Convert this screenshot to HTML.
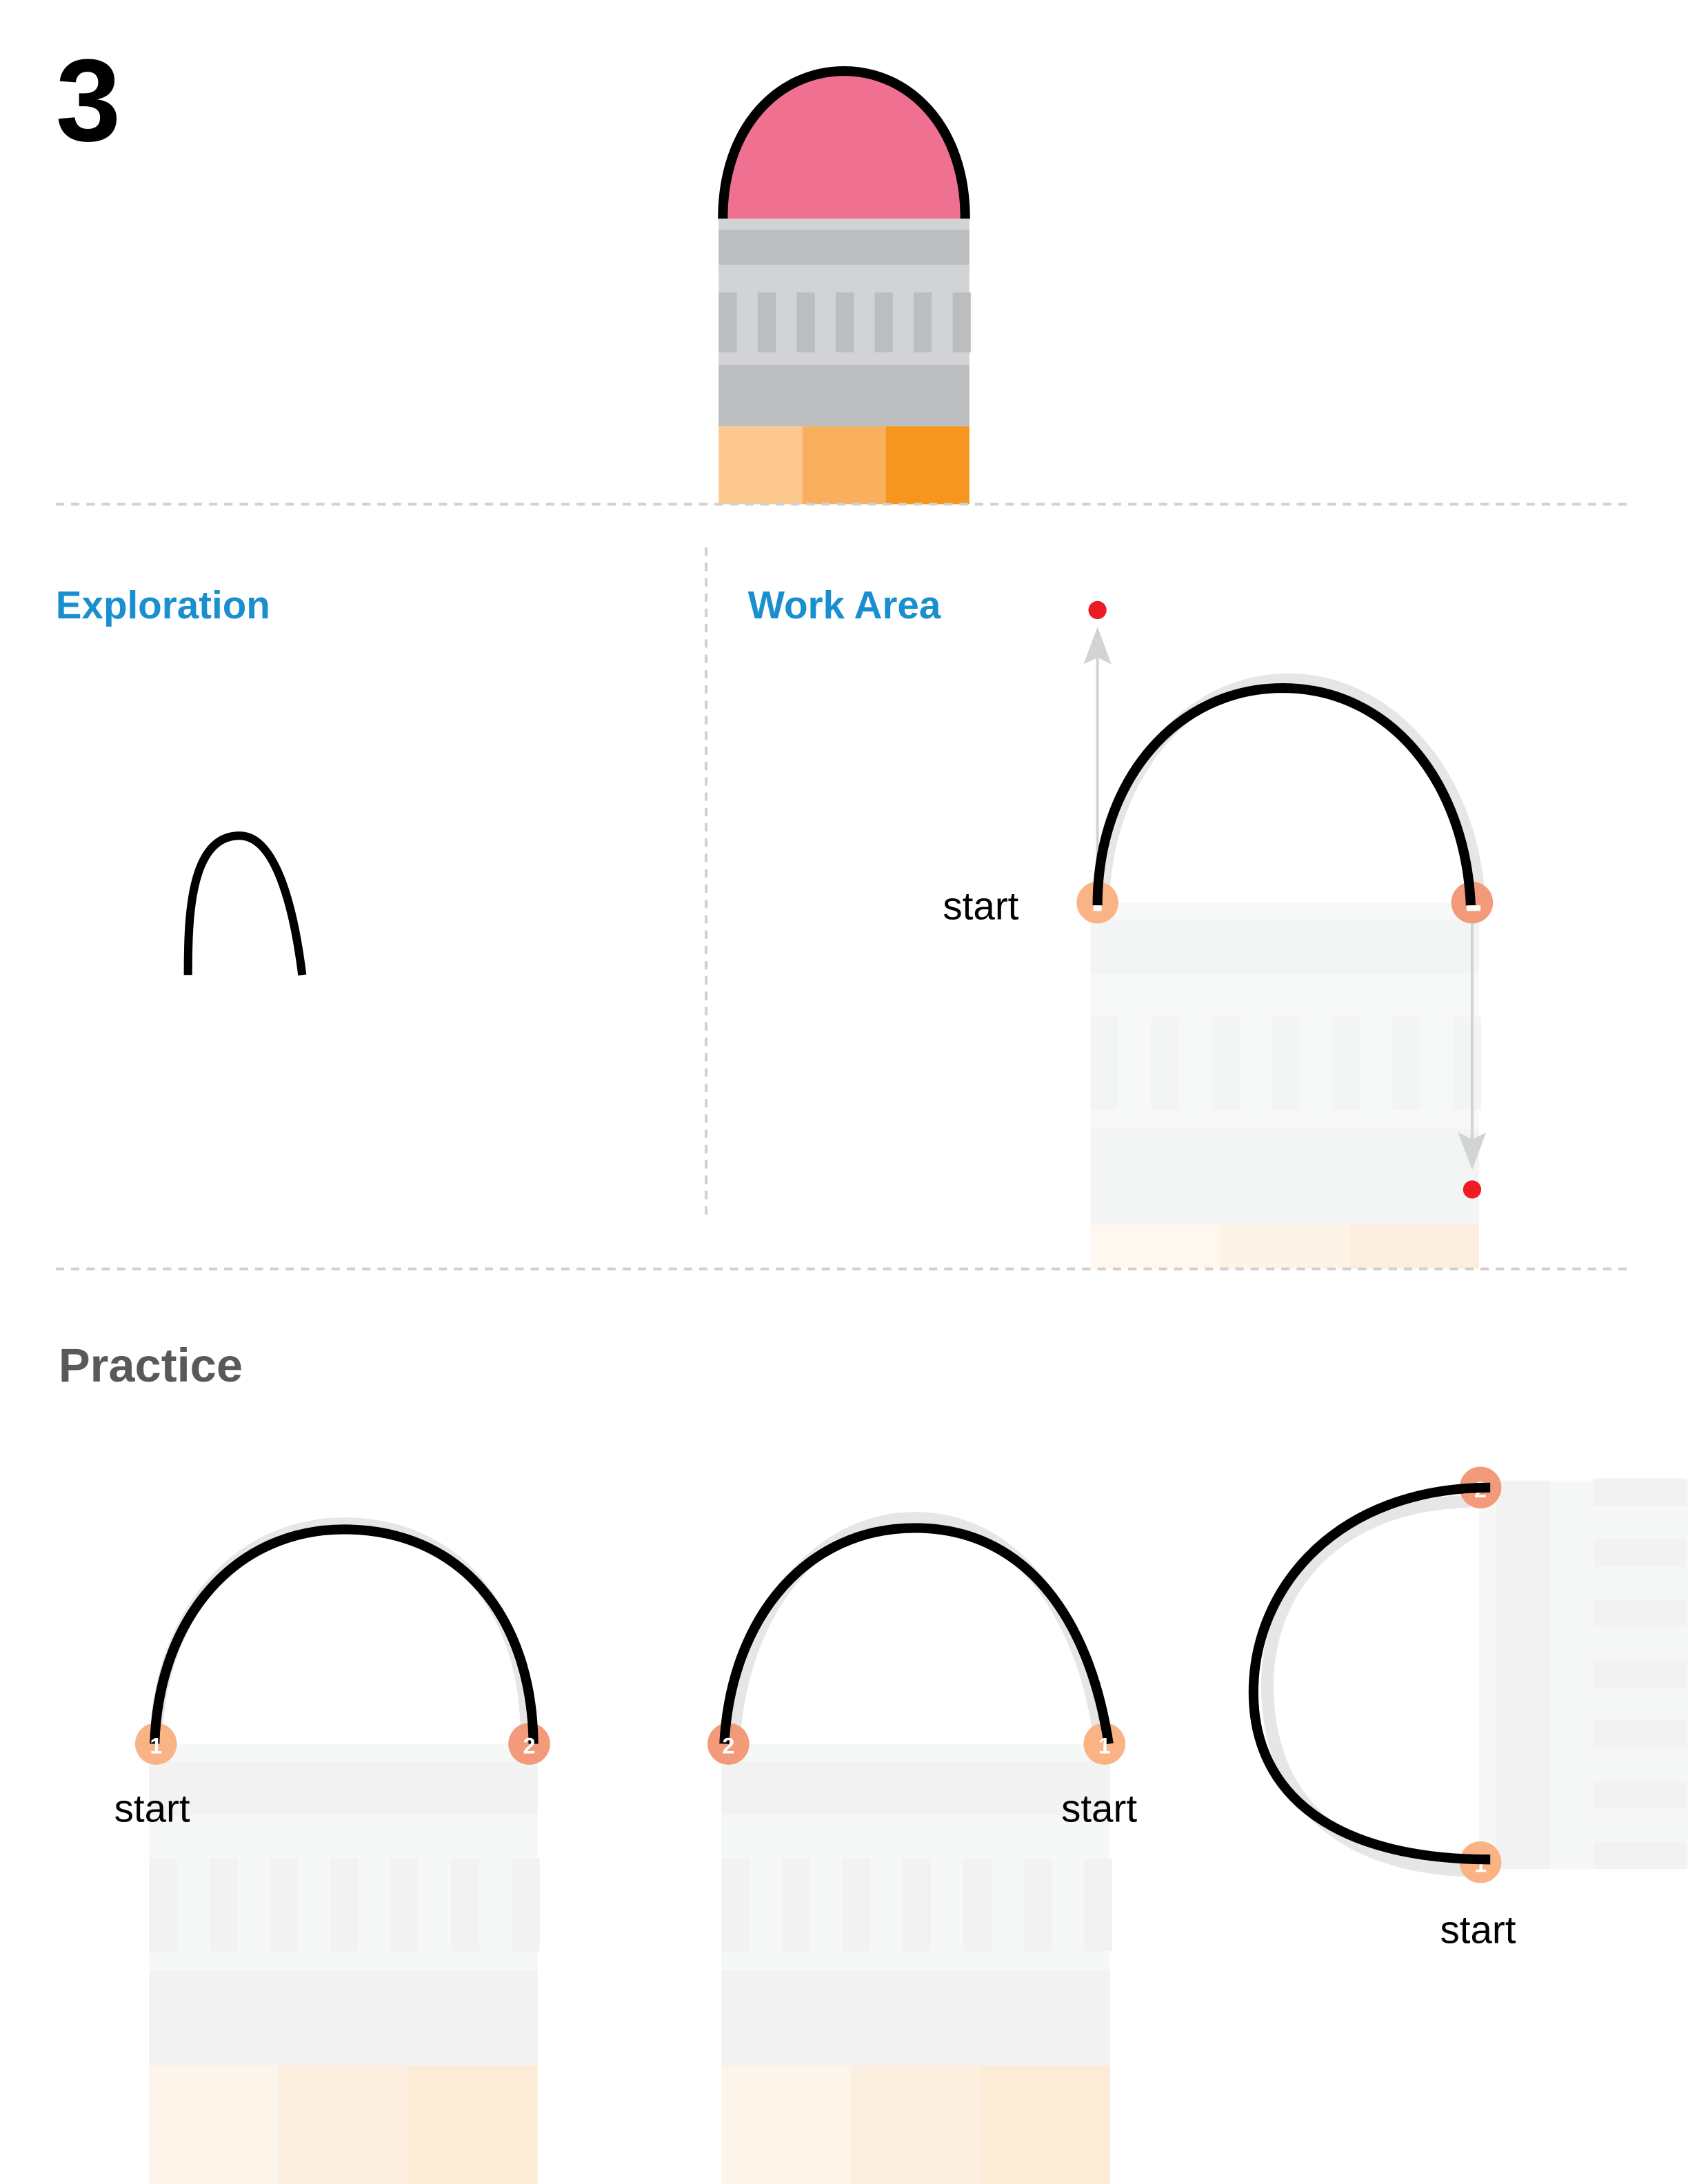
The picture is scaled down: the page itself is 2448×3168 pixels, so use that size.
<!DOCTYPE html>
<html><head><meta charset="utf-8"><style>
html,body{margin:0;padding:0;background:#fff;}
svg{display:block;}
text{font-family:"Liberation Sans","DejaVu Sans",sans-serif;}
</style></head><body>
<svg id="s" width="2448" height="3168" viewBox="0 0 1212 1568" preserveAspectRatio="none" xmlns="http://www.w3.org/2000/svg">
<defs><clipPath id="clipWork"><rect x="0" y="0" width="1212" height="911"/></clipPath></defs>
<rect width="1212" height="1568" fill="#fff"/>
<text x="40" y="101" font-size="84" font-weight="bold" fill="#000">3</text>

<g id="ghostWork" clip-path="url(#clipWork)"></g>
<g id="ghosts"></g>

<!-- top pencil -->
<g id="toppencil">
  <path d="M519,157 C519,90 560,51 606,51 C652,51 693,90 693,157 Z" fill="#f07092"/>
  <path d="M519,157 C519,90 560,51 606,51 C652,51 693,90 693,157" fill="none" stroke="#000" stroke-width="7"/>
</g>

<line x1="40" y1="362" x2="1170" y2="362" stroke="#d0d0d0" stroke-width="2" stroke-dasharray="6,5"/>
<line x1="507" y1="393" x2="507" y2="873" stroke="#d0d0d0" stroke-width="2" stroke-dasharray="6,5"/>
<line x1="40" y1="911" x2="1170" y2="911" stroke="#d0d0d0" stroke-width="2" stroke-dasharray="6,5"/>

<text x="40" y="444" font-size="28" font-weight="bold" fill="#1a8fcf">Exploration</text>
<text x="537" y="444" font-size="28" font-weight="bold" fill="#1a8fcf">Work Area</text>
<path d="M135,700 C135,660 136,600 172,600 C200,600 212,660 217,700" fill="none" stroke="#000" stroke-width="6"/>

<!-- work area -->
<g>
  <path d="M792,648 C794,560 850,488 925,488 C1000,488 1058,560 1062,648" fill="none" stroke="#e6e6e6" stroke-width="9"/>
  <line x1="788" y1="648" x2="788" y2="470" stroke="#d1d3d4" stroke-width="2"/>
  <path d="M778,477 L788,450 L798,477 L788,472 Z" fill="#d1d3d4"/>
  <circle cx="788" cy="438" r="6.5" fill="#ed1c24"/>
  <line x1="1057" y1="650" x2="1057" y2="820" stroke="#d1d3d4" stroke-width="2"/>
  <path d="M1047,813 L1057,840 L1067,813 L1057,818 Z" fill="#d1d3d4"/>
  <circle cx="1057" cy="854" r="6.5" fill="#ed1c24"/>
  <circle cx="788" cy="648" r="15" fill="#f9b384"/>
  <circle cx="1057" cy="648" r="15" fill="#f29a7a"/>
  <path d="M788,650 C788,560 845,494 921,494 C997,494 1052,560 1056,650" fill="none" stroke="#000" stroke-width="7"/>
  <rect x="785" y="650" width="6" height="4" fill="#fff"/>
  <rect x="1053" y="650" width="10" height="4" fill="#fff"/>
  <text x="677" y="660" font-size="28" fill="#000">start</text>
</g>

<text x="42" y="992" font-size="34" font-weight="bold" fill="#58595b">Practice</text>

<!-- practice 1 -->
<g>
  <path d="M112,1250 C114,1160 170,1094 247,1094 C330,1094 380,1160 378,1250" fill="none" stroke="#e6e6e6" stroke-width="9"/>
  <circle cx="112" cy="1252" r="15" fill="#f9b384"/>
  <circle cx="380" cy="1252" r="15" fill="#f29a7a"/>
  <path d="M111,1252 C114,1160 170,1098 247,1098 C330,1098 382,1160 383,1252" fill="none" stroke="#000" stroke-width="7"/>
  <text x="112" y="1259" font-size="16" font-weight="bold" fill="#fff" text-anchor="middle">1</text>
  <text x="380" y="1259" font-size="16" font-weight="bold" fill="#fff" text-anchor="middle">2</text>
  <text x="82" y="1308" font-size="28" fill="#000">start</text>
</g>
<!-- practice 2 -->
<g>
  <path d="M527,1250 C532,1160 585,1090 657,1090 C730,1090 778,1160 790,1250" fill="none" stroke="#e6e6e6" stroke-width="9"/>
  <circle cx="523" cy="1252" r="15" fill="#f29a7a"/>
  <circle cx="793" cy="1252" r="15" fill="#f9b384"/>
  <path d="M520,1252 C525,1160 580,1097 657,1097 C735,1097 782,1160 796,1252" fill="none" stroke="#000" stroke-width="7"/>
  <text x="523" y="1259" font-size="16" font-weight="bold" fill="#fff" text-anchor="middle">2</text>
  <text x="793" y="1259" font-size="16" font-weight="bold" fill="#fff" text-anchor="middle">1</text>
  <text x="762" y="1308" font-size="28" fill="#000">start</text>
</g>
<!-- practice 3 -->
<g>
  <path d="M1055,1078 C960,1080 910,1140 910,1210 C910,1290 960,1340 1055,1343" fill="none" stroke="#e6e6e6" stroke-width="9"/>
  <circle cx="1063" cy="1068" r="15" fill="#f29a7a"/>
  <circle cx="1063" cy="1337" r="15" fill="#f9b384"/>
  <text x="1063" y="1075" font-size="16" font-weight="bold" fill="#fff" text-anchor="middle">2</text>
  <text x="1063" y="1344" font-size="16" font-weight="bold" fill="#fff" text-anchor="middle">1</text>
  <path d="M1070,1068 C960,1068 900,1140 900,1215 C900,1290 960,1335 1070,1335" fill="none" stroke="#000" stroke-width="7"/>
  <text x="1034" y="1395" font-size="28" fill="#000">start</text>
</g>
</svg>
<script>
var NS='http://www.w3.org/2000/svg';
function R(parent,x,y,w,h,c){var r=document.createElementNS(NS,'rect');r.setAttribute('x',x);r.setAttribute('y',y);r.setAttribute('width',w);r.setAttribute('height',h);r.setAttribute('fill',c);parent.appendChild(r);return r;}
function pencil(parent,tx,ty,s,rot,light,dark,w1,w2,w3,name){
  var g=document.createElementNS(NS,'g');
  
  
  g.setAttribute('transform','translate('+tx+','+ty+') rotate('+rot+') scale('+s+')');
  R(g,0,0,180,149,light);
  R(g,0,8,180,25,dark);
  for(var i=0;i<7;i++){R(g,i*28,53,13,43,dark);}
  R(g,0,105,180,44,dark);
  R(g,0,149,60,56,w1);R(g,60,149,60,56,w2);R(g,120,149,60,56,w3);
  parent.appendChild(g);
}
var tp=document.getElementById('toppencil');
var first=tp.firstChild;
var tmp=document.createElementNS(NS,'g');
pencil(tmp,516,157,1,0,'#d1d3d4','#bcbdbf','#fcc890','#f8b05e','#f6961f','pencil-body');
tp.appendChild(tmp.firstChild);
var gw=document.getElementById('ghostWork');
pencil(gw,783,648,1.55,0,'#f7f8f8','#f3f4f4','#fef8f0','#fdf3e7','#fcefdf','ghost-pencil-work');
var gh=document.getElementById('ghosts');
pencil(gh,107,1252,1.55,0,'#f6f7f7','#f2f2f2','#fdf5ea','#fcefdf','#fcebd7','ghost-pencil-1');
pencil(gh,518,1252,1.55,0,'#f6f7f7','#f2f2f2','#fdf5ea','#fcefdf','#fcebd7','ghost-pencil-2');
pencil(gh,1062,1342,1.55,-90,'#f6f7f7','#f2f2f2','#fdf5ea','#fcefdf','#fcebd7','ghost-pencil-3');
</script>
</body></html>
